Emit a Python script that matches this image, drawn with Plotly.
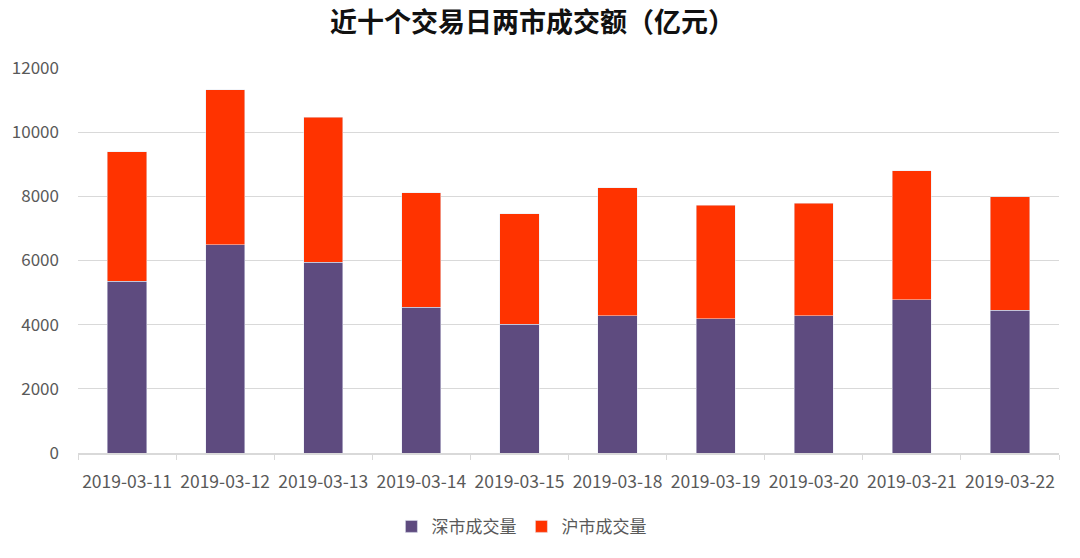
import plotly.graph_objects as go

dates = ["2019-03-11", "2019-03-12", "2019-03-13", "2019-03-14", "2019-03-15",
         "2019-03-18", "2019-03-19", "2019-03-20", "2019-03-21", "2019-03-22"]
shenzhen = [5360, 6490, 5940, 4550, 4020, 4280, 4180, 4280, 4770, 4450]
shanghai = [4030, 4835, 4525, 3555, 3430, 3980, 3550, 3500, 4030, 3540]

purple = "#5E4B7F"
red = "#FF3300"
font = "Noto Sans CJK SC"

fig = go.Figure()
fig.add_trace(go.Bar(x=dates, y=shenzhen, name="深市成交量", marker_color=purple))
fig.add_trace(go.Bar(x=dates, y=shanghai, name="沪市成交量", marker_color=red))

fig.update_layout(
    barmode="stack",
    bargap=0.6,
    width=1080, height=558,
    margin=dict(l=76, r=21, t=68, b=105),
    paper_bgcolor="white", plot_bgcolor="white",
    font=dict(family=font, size=15, color="#595959"),
    title=dict(text="<b>近十个交易日两市成交额（亿元）</b>", x=0.493, xanchor="center",
               y=0.96, yanchor="middle",
               font=dict(family=font, size=27, color="#111111")),
    legend=dict(orientation="h", x=0.452, xanchor="center", y=-0.145, yanchor="top",
                font=dict(size=17, color="#595959"), traceorder="normal"),
    xaxis=dict(type="category", showline=True, linecolor="#D9D9D9", linewidth=1.5,
               ticks="outside", tickson="boundaries", ticklen=5, tickcolor="#D9D9D9",
               tickangle=0, automargin=False, ticklabelstandoff=12,
               tickfont=dict(size=17.5, color="#595959"), showgrid=False),
    yaxis=dict(range=[0, 12000], dtick=2000, tickformat="d", showgrid=True,
               gridcolor="#D9D9D9", gridwidth=1.2, zeroline=False,
               tickfont=dict(size=17, color="#595959"), ticklabelstandoff=18),
)

fig.write_html("out.html")
